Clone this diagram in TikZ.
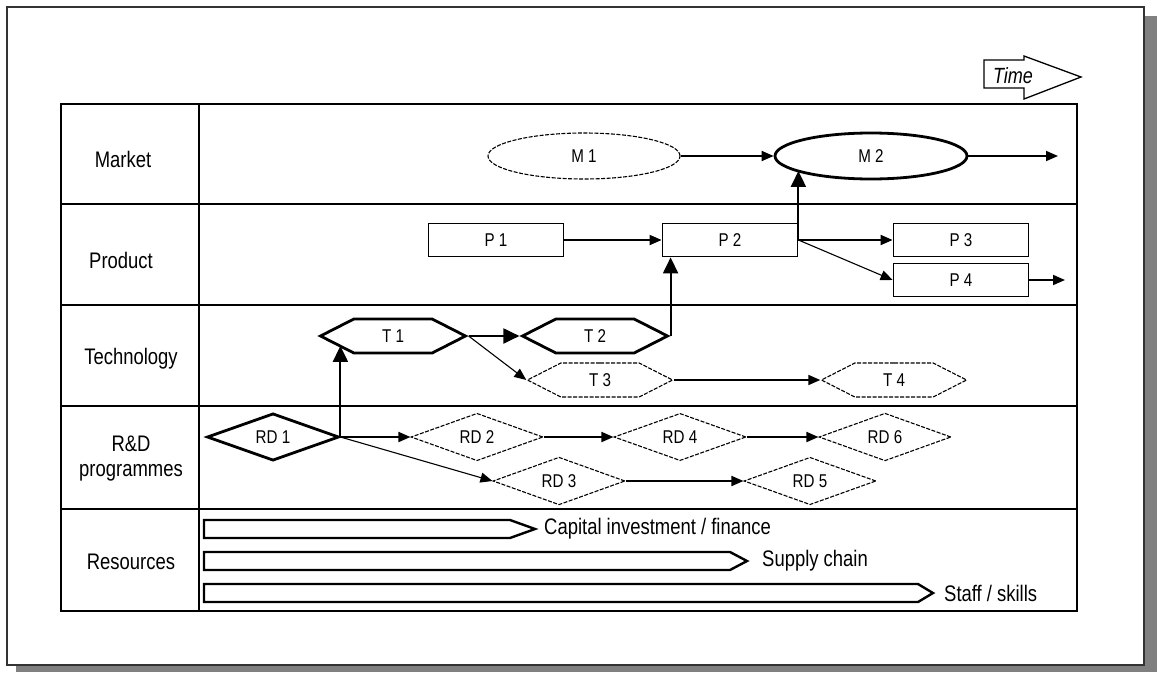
\documentclass[tikz,border=0pt]{standalone}
\usepackage{fontspec}
\setmainfont{Liberation Sans}[FakeStretch=0.82]
\usetikzlibrary{shapes.geometric,shapes.symbols,arrows.meta}
\begin{document}
\begin{tikzpicture}[x=1pt,y=-1pt,
  rowlab/.style={font=\fontsize{22.5}{25}\selectfont, align=center, inner sep=0},
  reslab/.style={font=\fontsize{22.5}{25}\selectfont, anchor=west, inner sep=0},
  nlab/.style={font=\fontsize{18.5}{20}\selectfont, inner sep=0},
  thickshape/.style={draw, line width=2.8pt},
  thinshape/.style={draw, line width=1.1pt, dash pattern=on 4pt off 1.5pt},
  ell/.style={nlab, ellipse, minimum width=192pt, minimum height=46pt},
  bx/.style={nlab, rectangle, draw, line width=1.8pt, minimum width=135pt, minimum height=33pt},
  hexa/.style={nlab, signal, signal to=east and west, signal pointer angle=54, minimum width=145pt, minimum height=34pt},
  dia/.style={nlab, diamond, minimum width=132pt, minimum height=39pt},
  conn/.style={line width=1.8pt, -{Triangle[length=12pt,width=10pt]}},
  bigconn/.style={line width=2pt, -{Triangle[length=16pt,width=15pt]}},
  thinconn/.style={line width=1.1pt, -{Triangle[length=12pt,width=10pt]}},
  bar/.style={draw, line width=2.4pt, fill=white},
  grid/.style={line width=2pt}
]
\useasboundingbox (0,0) rectangle (1159,672);
% frame with shadow
\fill[black!50] (16,16) rectangle (1157,672);
\draw[fill=white, line width=1.5pt, draw=black!80] (7,7) rectangle (1144,665);

% Time arrow
\draw[line width=1.3pt, fill=white] (984,60) -- (1024,60) -- (1024,56) -- (1081,77) -- (1024,99) -- (1024,88) -- (984,88) -- cycle;
\node[font=\itshape\fontsize{22}{24}\selectfont, inner sep=0] (time) at (1013,76) {Time};

% table
\draw[grid] (61,104) rectangle (1077,611);
\draw[grid] (199,104) -- (199,611);
\foreach \yy in {204,305,406,509} \draw[grid] (61,\yy) -- (1077,\yy);

% row labels
\node[rowlab] (lmarket) at (123,159) {Market};
\node[rowlab] (lproduct) at (121,260) {Product};
\node[rowlab] (ltech) at (131,359) {Technology};
\node[rowlab] (lrd) at (131,459) {R\&D\\programmes};
\node[rowlab] (lres) at (131,562) {Resources};

% market
\node[ell, thinshape] (M1) at (584,156) {M 1};
\node[ell, thickshape] (M2) at (871,156) {M 2};
\coordinate (Mout) at (1058,156);

% product
\node[bx] (P1) at (496,240) {P 1};
\node[bx] (P2) at (730,240) {P 2};
\node[bx] (P3) at (961,240) {P 3};
\node[bx] (P4) at (961,280) {P 4};
\coordinate (Pout) at (1065,280);

% technology
\node[hexa, thickshape] (T1) at (393,336) {T 1};
\node[hexa, thickshape] (T2) at (595,336) {T 2};
\node[hexa, thinshape] (T3) at (600,380) {T 3};
\node[hexa, thinshape] (T4) at (894,380) {T 4};

% R&D
\node[dia, thickshape] (RD1) at (273,437) {RD 1};
\node[dia, thinshape] (RD2) at (477,437) {RD 2};
\node[dia, thinshape] (RD3) at (559,481) {RD 3};
\node[dia, thinshape] (RD4) at (680,437) {RD 4};
\node[dia, thinshape] (RD5) at (810,481) {RD 5};
\node[dia, thinshape] (RD6) at (885,437) {RD 6};

% connectors
\draw[conn] (M1.east) -- (M2.west);
\draw[conn] (M2.east) -- (Mout);
\draw[conn] (P1.east) -- (P2.west);
\draw[conn] (P2.east) -- (P3.west);
\draw[thinconn] (P2.east) -- (P4.west);
\draw[conn] (P4.east) -- (Pout);
\draw[bigconn] (P2.east) -- (P2.east |- M2.191);
\draw[bigconn] (T2.east) -- (T2.east |- P2.south);
\draw[bigconn] (T1.east) -- (T2.west);
\draw[thinconn] (T1.east) -- (T3.west);
\draw[conn] (T3.east) -- (T4.west);
\draw[bigconn] (RD1.east) -- (RD1.east |- T1.190);
\draw[conn] (RD1.east) -- (RD2.west);
\draw[thinconn] (RD1.east) -- (RD3.west);
\draw[conn] (RD2.east) -- (RD4.west);
\draw[conn] (RD4.east) -- (RD6.west);
\draw[conn] (RD3.east) -- (RD5.west);

% resources
\draw[bar] (204,520) -- (510,520) -- (535,529) -- (510,538) -- (204,538) -- cycle;
\node[reslab] (rcap) at (544,529) {Capital investment / finance};
\draw[bar] (204,552) -- (730,552) -- (747,561) -- (730,570) -- (204,570) -- cycle;
\node[reslab] (rsup) at (762,561) {Supply chain};
\draw[bar] (204,584) -- (918,584) -- (933,593) -- (918,602) -- (204,602) -- cycle;
\node[reslab] (rstaff) at (944,593) {Staff / skills};
\end{tikzpicture}
\end{document}
